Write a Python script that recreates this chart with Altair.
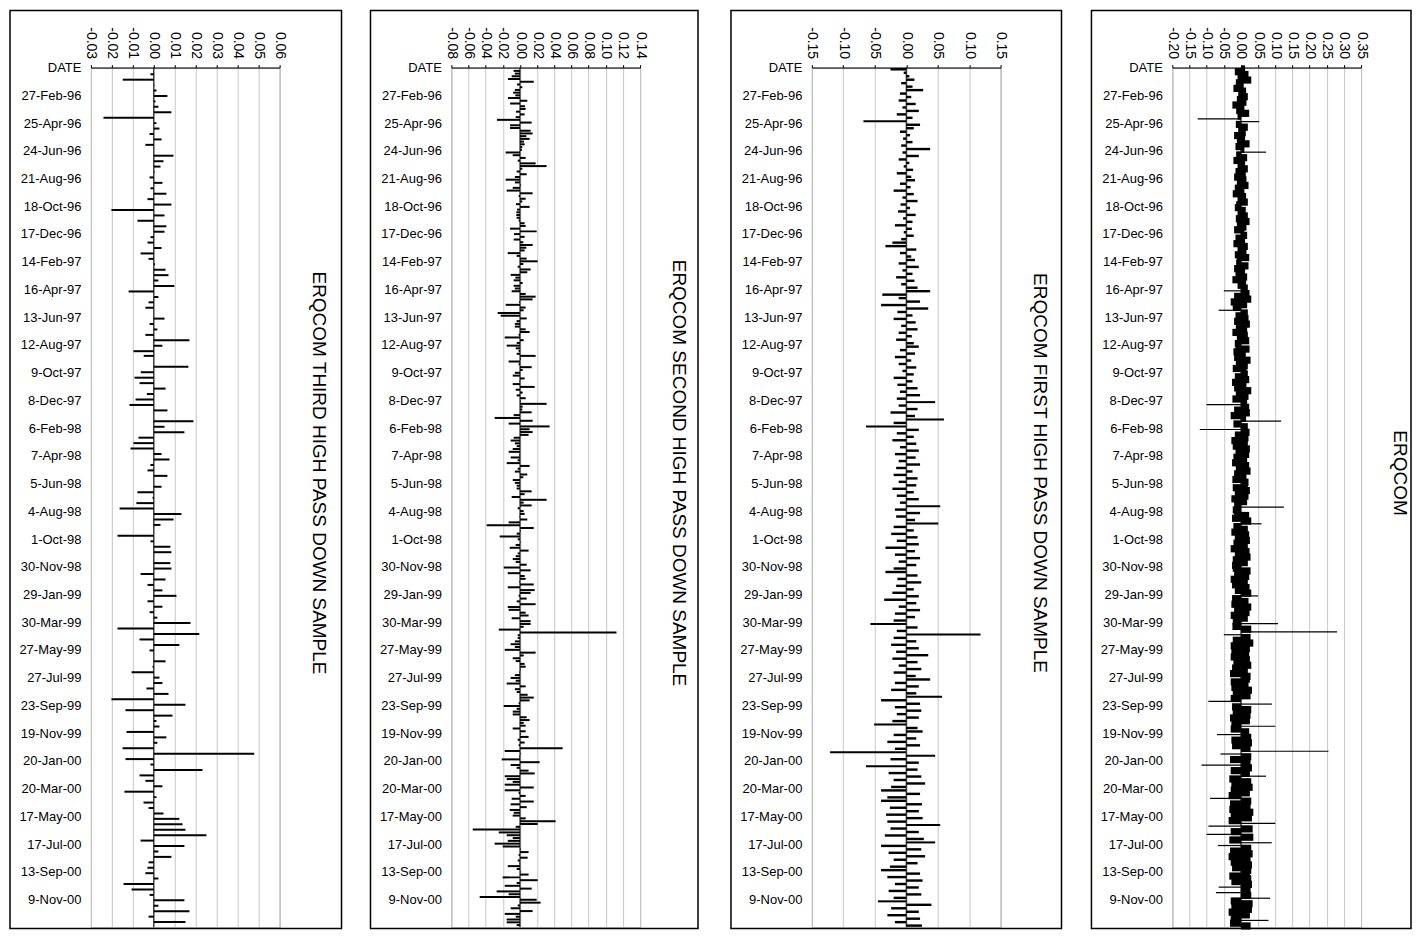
import json
import numpy as np
import pandas as pd
import altair as alt

FONT = "Liberation Sans"

DATE_LABELS = ["DATE", "27-Feb-96", "25-Apr-96", "24-Jun-96", "21-Aug-96", "18-Oct-96",
               "17-Dec-96", "14-Feb-97", "16-Apr-97", "13-Jun-97", "12-Aug-97", "9-Oct-97",
               "8-Dec-97", "6-Feb-98", "7-Apr-98", "5-Jun-98", "4-Aug-98", "1-Oct-98",
               "30-Nov-98", "29-Jan-99", "30-Mar-99", "27-May-99", "27-Jul-99", "23-Sep-99",
               "19-Nov-99", "20-Jan-00", "20-Mar-00", "17-May-00", "17-Jul-00", "13-Sep-00",
               "9-Nov-00"]

TITLES = ["ERQCOM THIRD HIGH PASS DOWN SAMPLE", "ERQCOM SECOND HIGH PASS DOWN SAMPLE",
          "ERQCOM FIRST HIGH PASS DOWN SAMPLE", "ERQCOM"]

X_MIN = [-0.03, -0.08, -0.15, -0.20]
X_MAX = [0.06, 0.14, 0.15, 0.35]
X_STEP = [0.01, 0.02, 0.05, 0.05]

# third high pass (down-sampled) series, read top to bottom
P1_TOP = [-0.0016, -0.0148, 0.0002, 0.0013, 0.0065, 0.0008, 0.0022, 0.0084, -0.024, 0.0013,
          0.0027, -0.002, 0.0037, -0.004, 0.0, 0.0094, 0.0046, 0.0032, 0.0003, -0.002,
          0.0041, -0.0016, 0.006, -0.003, 0.0084, -0.0202, 0.0051, -0.0078, 0.006, 0.0051,
          -0.0016, -0.003, 0.0037, -0.0063, -0.0025, 0.0006, 0.0056, 0.007, 0.0022, 0.0098,
          -0.012, 0.0022, -0.0025, -0.004, 0.0, 0.0051, -0.002, 0.0017, -0.004, 0.017,
          0.0041, -0.0097]
P1_MID = [-0.0048, 0.0, 0.0165, -0.0062, -0.0092, -0.0068, 0.0056, -0.0033, -0.0087, -0.0116,
          0.0065, 0.0, 0.0189, 0.0051, 0.0146, -0.0073, -0.0097, -0.0111, 0.0037, 0.0075,
          -0.0016, -0.003, 0.0065, 0.0, 0.0037, -0.0078, -0.0006, -0.0083, -0.0163, 0.0132,
          0.0094, 0.0032, 0.0, -0.0173, -0.0016, 0.0079, 0.0084, 0.0, 0.0079, 0.0084,
          -0.0063, 0.0056, -0.003, 0.0041, 0.0108, -0.003, 0.0041, -0.002, 0.0017, 0.0175,
          -0.0173, 0.0217, -0.0068]
P1_BOT = [0.0122, -0.002, 0.0, 0.0056, -0.0006, -0.0106, 0.0027, 0.0041, -0.0035, 0.007,
          -0.0202, 0.0151, -0.0135, 0.0089, 0.0013, 0.0027, -0.013, 0.006, 0.0017, -0.0149,
          0.0479, -0.0135, -0.0016, 0.0232, -0.0068, -0.004, 0.0041, -0.014, 0.0013, -0.0049,
          -0.0025, 0.0046, 0.0122, 0.0137, 0.0151, 0.0251, -0.0063, 0.0146, 0.0022, 0.0084,
          -0.0025, -0.003, -0.004, 0.0022, -0.0144, -0.0106, -0.002, 0.0146, 0.0022, 0.017,
          -0.0025, 0.0151]

# second high pass (down-sampled) series
P2_TOP = [-0.0074, -0.006, -0.0097, -0.014, 0.016, -0.0035, 0.0027, -0.006, -0.008, -0.0054,
          -0.014, 0.0085, -0.0116, 0.0058, 0.0066, -0.0047, 0.0054, -0.005, -0.0268, 0.0136,
          -0.0116, -0.0116, 0.0124, 0.0147, 0.0074, 0.0112, 0.0047, 0.0054, 0.0027, 0.0023,
          -0.0167, -0.0085, 0.0066, -0.0027, 0.0182, 0.031, 0.0027, -0.0039, 0.0078, -0.006,
          -0.0167, -0.006, 0.0008, -0.0085, -0.0155, 0.0147, -0.0016, 0.0066, 0.0027, -0.0047,
          0.0112, -0.0035, -0.0043, -0.0043, -0.0039, -0.0016, 0.0054, 0.0066, -0.0116, 0.0194,
          -0.007, 0.0054, -0.0074, 0.0039, 0.0147, 0.0074, 0.0054, -0.0143, -0.0039, 0.0078,
          0.0206, 0.0039, -0.0027, 0.0124, 0.0085, -0.0109, -0.0054, -0.0074, 0.0031, -0.0074,
          -0.006, -0.0097, 0.0066, 0.0182, 0.0147, -0.0008, -0.0167, 0.0066, 0.0043, -0.026,
          -0.0225, 0.0078, -0.0039, -0.006, -0.006, 0.0066, 0.0112, -0.0016, -0.0178, 0.0043,
          -0.0039, -0.0155, -0.005, -0.0016, -0.0039]
P2_MID = [0.0182, 0.0008, -0.0132, -0.0016, 0.0136, 0.0031, -0.006, -0.0085, 0.0054, -0.0006,
          -0.0085, 0.0171, -0.005, 0.0031, -0.0039, 0.0066, 0.0007, 0.031, 0.0031, 0.0027,
          0.0136, -0.0074, -0.0295, 0.0147, -0.0132, 0.0345, 0.0112, 0.0147, 0.01, -0.0074,
          -0.0109, -0.006, -0.0039, -0.0085, -0.0132, -0.0008, -0.0109, -0.0027, -0.0155, 0.0112,
          -0.0027, -0.006, 0.0085, 0.0039, -0.0085, -0.006, -0.0039, -0.0039, 0.0136, 0.0054,
          -0.0097, 0.031, 0.0043, 0.0136, -0.0027, 0.0043, 0.0054, -0.0006, 0.0085, -0.0132,
          -0.0388, 0.016, 0.0006, -0.0039, -0.0237, -0.0027, 0.0005, -0.005, -0.012, 0.01,
          -0.0027, -0.005, -0.0085, -0.005, 0.0078, -0.019, 0.0124, -0.0143, 0.0054, 0.0066,
          -0.0007, 0.016, -0.0143, 0.0171, 0.0124, -0.0016, 0.0078, -0.0039, 0.0182, -0.0143,
          -0.0132, 0.0066, 0.01, -0.0097, 0.0124, 0.0124, 0.0043, -0.0248, 0.1125, -0.0027,
          -0.0027]
P2_BOT = [-0.006, -0.0109, -0.006, -0.0178, 0.0182, 0.0043, -0.0085, -0.005, 0.0054, 0.0066,
          0.0006, -0.0007, -0.006, -0.0109, -0.005, -0.0155, 0.0066, -0.006, -0.0039, 0.0089,
          0.016, 0.0112, -0.0016, -0.019, -0.0039, -0.0085, -0.0085, 0.0078, 0.0112, 0.0043,
          0.0066, -0.0085, 0.0066, 0.0008, 0.01, -0.0027, 0.0054, -0.0016, 0.0497, -0.0178,
          0.0006, -0.0008, -0.0213, 0.0229, -0.0109, -0.0039, 0.01, 0.0171, -0.0178, -0.0155,
          -0.0085, -0.0178, 0.016, -0.0178, -0.0016, 0.0066, -0.0097, 0.016, -0.0109, 0.0078,
          -0.012, -0.0074, -0.0085, 0.0066, 0.0415, 0.0206, -0.005, -0.0551, -0.0248, -0.0155,
          -0.0085, -0.0143, -0.0295, -0.0202, 0.0007, 0.01, -0.0016, 0.0089, -0.0027, -0.0006,
          -0.0143, -0.0039, 0.0006, 0.01, -0.0202, 0.0206, -0.0039, -0.0178, 0.0136, -0.0272,
          -0.0132, -0.047, 0.0194, 0.024, -0.0027, -0.0109, 0.0147, -0.0178, -0.005, -0.0155,
          -0.0155, -0.0039]

# first high pass (down-sampled) series, estimated (dense)
P3 = [-0.025, -0.004, 0.005, 0.013, -0.008, 0.01, 0.027, -0.01,
      0.008, -0.012, 0.015, -0.006, 0.02, -0.015, 0.01, -0.068,
      0.022, 0.012, -0.01, 0.006, -0.005, 0.01, -0.008, 0.038,
      -0.006, 0.02, -0.012, 0.005, -0.004, 0.011, -0.015, 0.008,
      0.014, -0.01, 0.007, -0.02, 0.012, -0.006, 0.018, -0.009,
      0.006, -0.013, 0.015, -0.005, 0.01, -0.018, 0.009, -0.004,
      0.012, -0.008, -0.022, -0.033, 0.016, -0.01, 0.008, 0.014,
      -0.012, 0.02, -0.006, 0.01, -0.016, 0.013, -0.008, 0.018,
      0.038, -0.038, -0.012, 0.022, -0.04, 0.035, -0.014, 0.01,
      -0.02, 0.015, -0.008, 0.018, -0.012, 0.009, -0.016, 0.012,
      0.02, -0.01, 0.014, -0.018, 0.008, -0.012, 0.016, -0.006,
      0.012, -0.02, 0.01, -0.014, 0.018, -0.01, 0.022, -0.015,
      0.046, -0.012, 0.018, -0.025, 0.014, 0.06, -0.02, -0.064,
      0.02, -0.015, 0.012, -0.022, 0.016, -0.01, 0.02, -0.018,
      0.015, -0.012, 0.022, -0.016, 0.01, -0.02, 0.018, -0.012,
      0.016, -0.022, 0.012, -0.015, 0.02, -0.01, 0.054, -0.018,
      0.022, -0.016, 0.014, 0.051, -0.02, 0.012, -0.024, 0.018,
      -0.015, 0.02, -0.033, 0.014, -0.018, 0.022, -0.012, 0.016,
      -0.02, -0.033, 0.018, -0.014, 0.024, -0.016, 0.012, -0.022,
      0.02, -0.035, 0.016, -0.012, 0.022, -0.018, 0.014, -0.02,
      -0.057, 0.018, -0.015, 0.118, -0.02, 0.016, -0.024, 0.02,
      -0.016, 0.035, -0.022, 0.018, -0.012, 0.024, -0.02, 0.015,
      0.038, -0.018, 0.02, -0.024, 0.016, 0.057, -0.04, 0.022,
      -0.018, 0.024, -0.015, 0.02, -0.022, -0.051, 0.018, 0.026,
      -0.02, 0.016, -0.03, 0.022, -0.018, -0.121, 0.046, -0.025,
      0.02, -0.064, 0.018, -0.028, 0.024, -0.02, 0.03, -0.024,
      -0.04, 0.022, -0.03, -0.04, 0.025, -0.026, 0.02, -0.032,
      0.026, -0.03, 0.054, -0.025, 0.02, -0.034, 0.028, 0.046,
      -0.04, 0.024, -0.028, 0.03, -0.02, 0.018, -0.026, -0.04,
      0.022, -0.03, 0.026, -0.018, 0.02, -0.028, 0.024, -0.02,
      -0.045, 0.04, -0.024, 0.02, -0.03, 0.022, -0.018, 0.025]

# original ERQCOM series, estimated (dense)
P4 = [0.012, -0.018, 0.022, -0.01, 0.03, -0.015, 0.008, -0.022, 0.015, -0.008,
      0.02, -0.012, 0.016, -0.025, 0.01, -0.014, 0.024, -0.01, -0.126, 0.053,
      -0.015, 0.02, -0.008, 0.014, -0.02, 0.012, -0.012, 0.025, -0.016, 0.01,
      0.073, -0.014, 0.018, -0.022, 0.012, -0.01, 0.02, -0.016, 0.014, -0.02,
      0.016, -0.012, 0.022, -0.018, 0.01, -0.024, 0.015, -0.01, 0.02, -0.014,
      -0.018, 0.014, -0.01, 0.02, -0.015, 0.025, -0.012, 0.016, -0.02, 0.01,
      0.018, -0.016, 0.012, -0.022, 0.02, -0.01, 0.016, -0.018, 0.024, -0.012,
      -0.014, 0.022, -0.02, 0.012, -0.016, 0.018, -0.025, 0.015, -0.01, 0.02,
      -0.05, 0.025, -0.02, 0.03, -0.03, 0.018, -0.024, -0.065, 0.02, -0.016,
      0.022, -0.02, 0.026, -0.015, 0.018, -0.025, 0.02, -0.012, 0.024, -0.018,
      -0.016, 0.025, -0.022, 0.014, -0.02, 0.028, -0.015, 0.02, -0.024, 0.016,
      0.02, -0.018, 0.024, -0.026, 0.016, -0.02, 0.03, -0.015, 0.022, -0.025,
      0.018, -0.1, 0.024, -0.02, 0.026, -0.03, 0.015, 0.117, -0.022, 0.02,
      -0.12, 0.025, -0.018, 0.022, -0.028, 0.02, -0.024, 0.026, -0.016, 0.024,
      -0.022, 0.018, -0.026, 0.024, -0.015, 0.028, -0.02, 0.016, -0.025, 0.022,
      0.02, -0.024, 0.026, -0.018, 0.022, -0.028, 0.018, -0.02, 0.125, -0.024,
      -0.02, 0.024, -0.026, 0.03, 0.06, -0.022, 0.02, -0.028, 0.024, -0.018,
      0.026, -0.022, 0.02, -0.03, 0.025, -0.018, 0.028, -0.024, 0.02, -0.026,
      -0.024, 0.028, -0.02, 0.024, -0.03, 0.02, -0.026, 0.025, -0.018, 0.03,
      0.05, -0.026, 0.022, -0.028, 0.03, -0.02, 0.025, -0.03, 0.02, -0.024,
      0.108, -0.025, 0.03, 0.28, -0.05, 0.028, -0.024, 0.036, -0.03, 0.026,
      -0.028, 0.024, -0.03, 0.026, -0.022, 0.03, -0.026, 0.02, -0.032, 0.028,
      0.026, -0.03, 0.022, -0.028, 0.032, -0.024, 0.028, -0.03, -0.095, 0.09,
      -0.026, 0.03, -0.024, 0.028, -0.032, 0.026, -0.028, 0.1, -0.03, 0.024,
      -0.07, 0.03, -0.028, 0.032, -0.026, 0.028, 0.255, -0.06, 0.03, -0.032,
      0.028, -0.115, 0.032, -0.03, 0.026, 0.073, -0.034, 0.03, -0.028, 0.034,
      -0.03, 0.026, -0.036, -0.09, 0.03, -0.032, 0.028, -0.034, 0.036, -0.03,
      0.032, -0.036, 0.1, -0.095, 0.034, -0.03, -0.1, 0.036, -0.034, 0.09,
      -0.067, 0.03, -0.032, 0.034, -0.036, 0.028, -0.03, 0.032, -0.026, 0.03,
      0.026, -0.034, 0.03, -0.028, 0.032, -0.065, 0.028, -0.073, 0.03, 0.085,
      -0.03, 0.034, -0.028, 0.032, -0.036, 0.026, -0.03, 0.08, -0.032, 0.028]

W, H = 189, 861
NU = 31            # label intervals along the date axis
U = H / NU         # pixels per label interval


def frame_sparse(segments):
    vals, cs = [], []
    for seg, a, b in segments:
        vals.extend(seg)
        cs.extend(np.linspace(a, b, len(seg)))
    c = np.array(cs)
    half = 1.0 / U
    return pd.DataFrame({"v": vals, "zero": 0.0, "y0": c - half, "y1": c + half})


def frame_dense(vals, core_factor, spike_cut, spike_px):
    v = np.array(vals)
    n = len(v)
    st = NU / n
    c = (np.arange(n) + 0.5) * st
    half = np.where(np.abs(v) >= spike_cut, spike_px / U / 2, st * core_factor / 2)
    df = pd.DataFrame({"v": v, "zero": 0.0, "y0": c - half, "y1": c + half})
    df["mag"] = np.abs(v)
    return df.sort_values("mag").reset_index(drop=True)


FRAMES = [
    frame_sparse([(P1_TOP, 0.241, 10.226), (P1_MID, 10.395, 20.62), (P1_BOT, 20.82, 30.81)]),
    frame_sparse([(P2_TOP, 0.119, 10.32), (P2_MID, 10.395, 20.57), (P2_BOT, 20.69, 30.92)]),
    frame_dense(P3, 0.7, 0.045, 2.0),
    frame_dense(P4, 2.6, 0.045, 1.2),
]
BOX_LEFT = -81
BOX_RIGHT = [62, 58, 61, 50]
BOX_TOP = -57.25
BOX_BOTTOM = H + 1.25


def panel(i):
    lo, hi, st = X_MIN[i], X_MAX[i], X_STEP[i]
    ticks = [round(float(t), 4) for t in np.arange(lo, hi + st / 2, st)]
    xs = alt.Scale(domain=[lo, hi], nice=False, zero=False)
    ys = alt.Scale(domain=[0, NU], reverse=True, nice=False, zero=False)
    xaxis = alt.Axis(orient="top", values=ticks, tickCount=len(ticks), title=None,
                     labelAngle=90, labelAlign="right", labelBaseline="middle",
                     labelPadding=6, labelFontSize=14, labelFont=FONT,
                     labelColor="black", labelFlush=False, labelOverlap=False, labelBound=False,
                     domainColor="black", domainWidth=1, tickColor="black", tickSize=3,
                     tickWidth=1, grid=True, gridColor="#c6c6c6", gridWidth=1,
                     labelExpr="(datum.value < 0 ? '-' : '') + format(abs(datum.value), '.2f')")
    yaxis = alt.Axis(orient="left", values=list(range(NU)), tickCount=NU, title=None,
                     labelExpr=json.dumps(DATE_LABELS) + "[round(datum.value)]",
                     domain=False, ticks=False, grid=False, labelPadding=10, labelFontSize=13,
                     labelFont=FONT, labelColor="black", labelFlush=False, labelOverlap=False,
                     labelBaseline="middle", labelAlign="right")
    one = pd.DataFrame({"k": [0]})
    box = alt.Chart(one).mark_rect(filled=False, fillOpacity=0, stroke="black",
                                   strokeWidth=1.5).encode(
        x=alt.value(BOX_LEFT), x2=alt.value(W + BOX_RIGHT[i]),
        y=alt.value(BOX_TOP), y2=alt.value(BOX_BOTTOM))
    bars = alt.Chart(FRAMES[i]).mark_rect(color="black").encode(
        x=alt.X("v:Q", scale=xs, axis=xaxis),
        x2="zero:Q",
        y=alt.Y("y0:Q", scale=ys, axis=yaxis),
        y2="y1:Q")
    zero_line = alt.Chart(one).mark_rule(color="black", strokeWidth=1).encode(
        x=alt.datum(0.0), y=alt.value(0), y2=alt.value(H))
    title = alt.Chart(one).mark_text(angle=90, fontSize=19, font=FONT, color="black",
                                     align="center", baseline="middle").encode(
        x=alt.value(W + 39), y=alt.value(406), text=alt.value(TITLES[i]))
    return alt.layer(box, bars, zero_line, title).properties(width=W, height=H)


chart = alt.hconcat(*[panel(i) for i in range(4)], spacing=172, bounds="flush").properties(
    padding=0, background="white"
).configure_view(stroke="#a0a0a0", strokeWidth=1)

chart.save("out.html", embed_options={"renderer": "svg", "actions": False})
